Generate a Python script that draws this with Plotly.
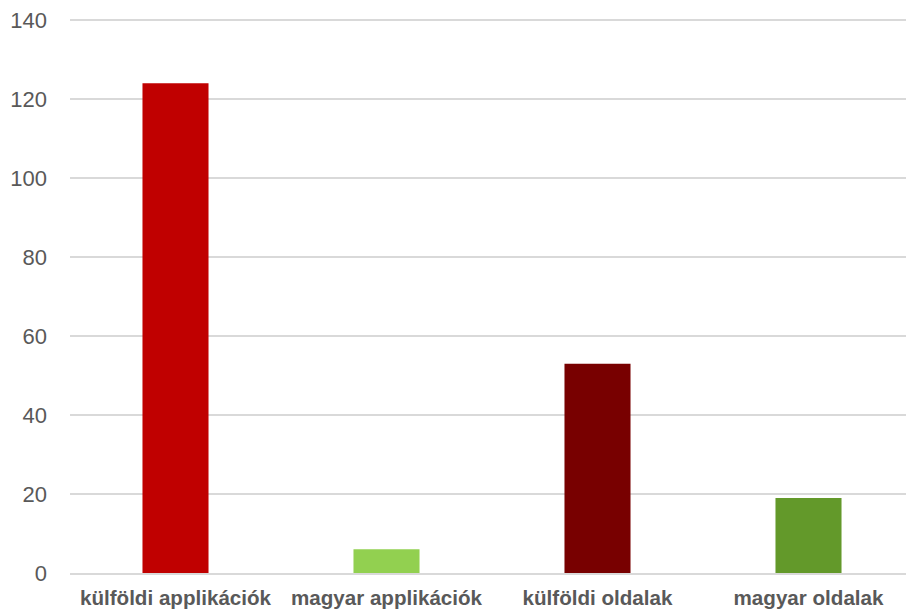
import plotly.graph_objects as go

categories = ["külföldi applikációk", "magyar applikációk", "külföldi oldalak", "magyar oldalak"]
values = [124, 6, 53, 19]
colors = ["#C00000", "#92D050", "#780000", "#63992A"]
y_ticks = [0, 20, 40, 60, 80, 100, 120, 140]

fig = go.Figure(go.Bar(x=categories, y=values, marker=dict(color=colors, line=dict(width=0)), width=0.313))

# the page body has an 8px margin, so the figure is a bit smaller and margins shifted
fig.update_layout(
    width=906, height=601,
    margin=dict(l=62, r=0, t=10, b=36, autoexpand=False),
    paper_bgcolor="white", plot_bgcolor="white",
    showlegend=False,
    font=dict(family="Liberation Sans, Arial", color="#595959"),
)
fig.update_xaxes(
    tickfont=dict(size=20.6, color="#595959", family="Liberation Sans, Arial", weight="bold"),
    showgrid=False, showline=True, linecolor="#D9D9D9", linewidth=1.5,
    ticks="", ticklabelstandoff=6, automargin=False, ticklabeloverflow="allow",
)
fig.update_yaxes(
    range=[0, 140.5], tickvals=y_ticks,
    tickfont=dict(size=22, color="#595959"),
    showgrid=True, gridcolor="#D9D9D9", gridwidth=1.5,
    zeroline=False, showline=False, ticks="", ticklabelstandoff=22, automargin=False,
    ticklabeloverflow="allow",
)

fig.write_html("out.html")
